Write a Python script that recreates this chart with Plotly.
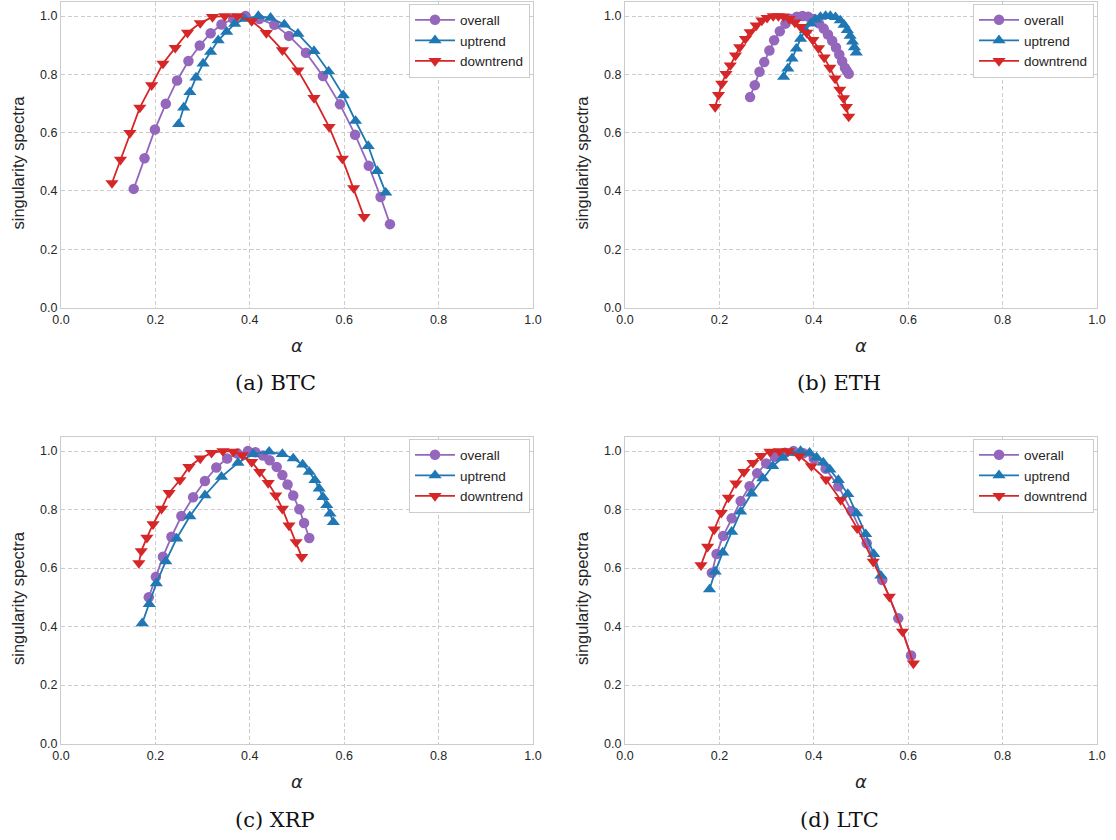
import plotly.graph_objects as go

# ---------------- data ----------------
btc_overall_alpha = [0.154, 0.177, 0.199, 0.222, 0.246, 0.270, 0.294, 0.317, 0.340, 0.365, 0.391, 0.420, 0.452, 0.483, 0.519, 0.555, 0.591, 0.623, 0.652, 0.677, 0.697]
btc_overall_f = [0.407, 0.512, 0.611, 0.699, 0.779, 0.846, 0.899, 0.941, 0.971, 0.991, 1.000, 0.990, 0.970, 0.932, 0.874, 0.794, 0.697, 0.593, 0.486, 0.379, 0.286]
btc_up_alpha = [0.249, 0.260, 0.273, 0.286, 0.301, 0.317, 0.333, 0.351, 0.368, 0.389, 0.418, 0.444, 0.473, 0.502, 0.536, 0.567, 0.598, 0.624, 0.651, 0.670, 0.688]
btc_up_f = [0.629, 0.686, 0.739, 0.789, 0.837, 0.877, 0.917, 0.946, 0.973, 0.990, 1.000, 0.994, 0.971, 0.939, 0.880, 0.810, 0.728, 0.640, 0.554, 0.468, 0.394]
btc_down_alpha = [0.108, 0.126, 0.146, 0.167, 0.192, 0.216, 0.242, 0.268, 0.295, 0.321, 0.347, 0.374, 0.404, 0.435, 0.469, 0.502, 0.536, 0.568, 0.596, 0.620, 0.642]
btc_down_f = [0.427, 0.507, 0.599, 0.686, 0.763, 0.837, 0.891, 0.943, 0.976, 0.997, 1.000, 1.000, 0.983, 0.942, 0.883, 0.814, 0.719, 0.620, 0.511, 0.410, 0.311]

eth_overall_alpha = [0.265, 0.275, 0.285, 0.295, 0.306, 0.316, 0.328, 0.340, 0.352, 0.364, 0.376, 0.388, 0.400, 0.411, 0.421, 0.430, 0.439, 0.447, 0.454, 0.460, 0.466, 0.470, 0.474]
eth_overall_f = [0.722, 0.763, 0.809, 0.842, 0.882, 0.917, 0.948, 0.974, 0.990, 0.998, 1.000, 0.998, 0.990, 0.975, 0.957, 0.937, 0.915, 0.892, 0.868, 0.845, 0.823, 0.812, 0.802]
eth_up_alpha = [0.336, 0.345, 0.354, 0.363, 0.372, 0.382, 0.393, 0.403, 0.414, 0.425, 0.435, 0.446, 0.456, 0.464, 0.471, 0.477, 0.482, 0.486, 0.490]
eth_up_f = [0.791, 0.820, 0.854, 0.888, 0.922, 0.951, 0.974, 0.988, 0.997, 1.000, 1.000, 0.996, 0.985, 0.970, 0.952, 0.932, 0.912, 0.893, 0.875]
eth_down_alpha = [0.191, 0.198, 0.205, 0.214, 0.223, 0.234, 0.243, 0.255, 0.265, 0.278, 0.290, 0.301, 0.314, 0.325, 0.336, 0.348, 0.360, 0.372, 0.385, 0.398, 0.410, 0.422, 0.434, 0.445, 0.455, 0.463, 0.469, 0.474]
eth_down_f = [0.688, 0.730, 0.768, 0.802, 0.831, 0.865, 0.893, 0.922, 0.945, 0.968, 0.985, 0.994, 1.000, 1.000, 0.999, 0.990, 0.978, 0.963, 0.943, 0.918, 0.890, 0.858, 0.823, 0.786, 0.748, 0.718, 0.688, 0.655]

xrp_overall_alpha = [0.186, 0.201, 0.216, 0.234, 0.255, 0.280, 0.305, 0.329, 0.352, 0.374, 0.396, 0.412, 0.428, 0.442, 0.457, 0.469, 0.480, 0.492, 0.505, 0.515, 0.526]
xrp_overall_f = [0.500, 0.570, 0.639, 0.707, 0.778, 0.842, 0.898, 0.944, 0.975, 0.992, 1.000, 0.996, 0.985, 0.969, 0.946, 0.918, 0.886, 0.848, 0.801, 0.754, 0.703]
xrp_up_alpha = [0.172, 0.187, 0.202, 0.222, 0.245, 0.273, 0.305, 0.340, 0.375, 0.407, 0.441, 0.469, 0.492, 0.512, 0.526, 0.538, 0.547, 0.555, 0.563, 0.570, 0.577]
xrp_up_f = [0.411, 0.477, 0.548, 0.623, 0.701, 0.777, 0.849, 0.912, 0.960, 0.990, 0.998, 0.990, 0.975, 0.954, 0.929, 0.901, 0.872, 0.843, 0.815, 0.786, 0.757]
xrp_down_alpha = [0.165, 0.170, 0.182, 0.195, 0.213, 0.229, 0.252, 0.271, 0.295, 0.319, 0.343, 0.365, 0.384, 0.404, 0.421, 0.439, 0.455, 0.469, 0.483, 0.498, 0.510]
xrp_down_f = [0.617, 0.658, 0.704, 0.750, 0.803, 0.857, 0.901, 0.946, 0.975, 0.994, 1.000, 0.998, 0.986, 0.963, 0.929, 0.891, 0.849, 0.803, 0.746, 0.689, 0.638]

ltc_overall_alpha = [0.184, 0.194, 0.208, 0.226, 0.245, 0.264, 0.280, 0.299, 0.318, 0.339, 0.357, 0.378, 0.400, 0.425, 0.452, 0.480, 0.512, 0.545, 0.579, 0.606]
ltc_overall_f = [0.584, 0.648, 0.710, 0.770, 0.829, 0.880, 0.924, 0.958, 0.981, 0.994, 1.000, 0.993, 0.975, 0.940, 0.880, 0.795, 0.685, 0.559, 0.428, 0.301]
ltc_up_alpha = [0.179, 0.191, 0.207, 0.226, 0.245, 0.268, 0.292, 0.313, 0.334, 0.353, 0.372, 0.391, 0.406, 0.420, 0.434, 0.452, 0.472, 0.491, 0.510, 0.527, 0.542]
ltc_up_f = [0.527, 0.588, 0.653, 0.724, 0.793, 0.855, 0.907, 0.949, 0.977, 0.994, 1.000, 0.994, 0.978, 0.961, 0.937, 0.901, 0.853, 0.787, 0.716, 0.648, 0.574]
ltc_down_alpha = [0.161, 0.175, 0.189, 0.204, 0.219, 0.235, 0.252, 0.271, 0.288, 0.307, 0.327, 0.346, 0.369, 0.395, 0.426, 0.457, 0.492, 0.526, 0.560, 0.588, 0.611]
ltc_down_f = [0.610, 0.673, 0.732, 0.789, 0.841, 0.890, 0.929, 0.960, 0.984, 0.998, 1.000, 1.000, 0.983, 0.949, 0.903, 0.833, 0.736, 0.622, 0.502, 0.383, 0.274]

series_names = ["overall", "uptrend", "downtrend"]
captions = ["(a) BTC", "(b) ETH", "(c) XRP", "(d) LTC"]
tick_values = [0.0, 0.2, 0.4, 0.6, 0.8, 1.0]

panels = [
    [(btc_overall_alpha, btc_overall_f), (btc_up_alpha, btc_up_f), (btc_down_alpha, btc_down_f)],
    [(eth_overall_alpha, eth_overall_f), (eth_up_alpha, eth_up_f), (eth_down_alpha, eth_down_f)],
    [(xrp_overall_alpha, xrp_overall_f), (xrp_up_alpha, xrp_up_f), (xrp_down_alpha, xrp_down_f)],
    [(ltc_overall_alpha, ltc_overall_f), (ltc_up_alpha, ltc_up_f), (ltc_down_alpha, ltc_down_f)],
]

# ---------------- style ----------------
W, H = 1116, 840
colors = ["#9467bd", "#1f77b4", "#d62728"]
symbols = ["circle", "triangle-up", "triangle-down"]
msizes = [10.5, 11.5, 11.5]
sans = "Liberation Sans, Arial, DejaVu Sans, sans-serif"
serif = "DejaVu Serif, Liberation Serif, serif"

# panel pixel boxes: (left, right, top, bottom)
boxes = [(61, 533, 1.5, 307.5), (625, 1097, 1.5, 307.5), (61, 533, 436.5, 743.5), (625, 1097, 436.5, 743.5)]

fig = go.Figure()

for i, data in enumerate(panels):
    ax = "" if i == 0 else str(i + 1)
    leg = "legend" if i == 0 else "legend" + str(i + 1)
    for j, (xs, ys) in enumerate(data):
        fig.add_trace(go.Scatter(
            x=xs, y=ys, mode="lines+markers", name=series_names[j],
            line=dict(color=colors[j], width=1.8),
            marker=dict(symbol=symbols[j], size=msizes[j], color=colors[j], line=dict(width=0)),
            xaxis="x" + ax, yaxis="y" + ax, legend=leg, showlegend=True,
        ))

layout = dict(
    width=W, height=H, margin=dict(l=0, r=0, t=0, b=0, autoexpand=False),
    paper_bgcolor="white", plot_bgcolor="white",
    font=dict(family=sans, color="#262626"),
    annotations=[],
)

for i, (l, r, t, b) in enumerate(boxes):
    ax = "" if i == 0 else str(i + 1)
    axis_common = dict(
        showgrid=True, gridcolor="#cccccc", griddash="4px,2.5px", gridwidth=1,
        showline=True, mirror=True, linecolor="#cccccc", linewidth=1.2,
        zeroline=False, ticks="", tickvals=tick_values, tickformat=".1f",
        tickfont=dict(size=12.5, color="#262626", family=sans),
        automargin=False,
    )
    layout["xaxis" + ax] = dict(axis_common, domain=[l / W, r / W], range=[0, 1],
                                anchor="y" + ax)
    layout["yaxis" + ax] = dict(axis_common, domain=[1 - b / H, 1 - t / H], range=[0, 1.05],
                                anchor="x" + ax)
    leg = "legend" if i == 0 else "legend" + str(i + 1)
    layout[leg] = dict(
        x=(r - 3) / W, xanchor="right", y=1 - (t + 2) / H, yanchor="top",
        bgcolor="white", bordercolor="#cccccc", borderwidth=1,
        font=dict(size=13.5, color="#262626", family=sans),
        tracegroupgap=0, itemwidth=40,
    )
    cx = (l + r) / 2
    layout["annotations"] += [
        dict(text="singularity spectra", x=(l - 43) / W, y=1 - ((t + b) / 2 + 8) / H,
             xref="paper", yref="paper", textangle=-90, showarrow=False,
             xanchor="center", yanchor="middle", font=dict(size=16.5, color="#262626", family=sans)),
        dict(text="<i>α</i>", x=(cx - 0) / W, y=1 - (b + 38) / H,
             xref="paper", yref="paper", showarrow=False,
             xanchor="center", yanchor="middle", font=dict(size=18, color="#262626", family="DejaVu Sans")),
        dict(text=captions[i], x=(cx - 22) / W, y=1 - (b + 76) / H,
             xref="paper", yref="paper", showarrow=False,
             xanchor="center", yanchor="middle", font=dict(size=21, color="#111111", family=serif)),
    ]

fig.update_layout(**layout)
fig.write_html("out.html", config={"displayModeBar": False},
               post_script="document.body.style.margin='0';document.body.style.overflow='hidden';")
